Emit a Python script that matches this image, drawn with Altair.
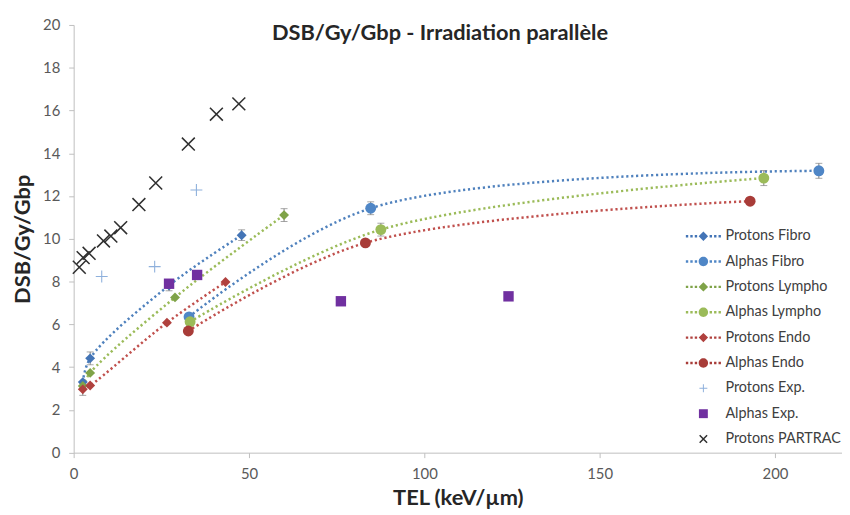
import altair as alt
import pandas as pd

# ---------------- data ----------------
TITLE = "DSB/Gy/Gbp - Irradiation parallèle"
X_TITLE = "TEL (keV/µm)"
Y_TITLE = "DSB/Gy/Gbp"
x_ticks = [0, 50, 100, 150, 200]
y_ticks = [0, 2, 4, 6, 8, 10, 12, 14, 16, 18, 20]

series_names = ["Protons Fibro", "Alphas Fibro", "Protons Lympho", "Alphas Lympho",
                "Protons Endo", "Alphas Endo", "Protons Exp.", "Alphas Exp.",
                "Protons PARTRAC"]

protons_fibro_x = [2.6, 4.7, 27.2, 47.9]
protons_fibro_y = [3.30, 4.41, 7.82, 10.17]
protons_fibro_err = [0.0, 0.30, 0.25, 0.25]

alphas_fibro_x = [32.9, 84.7, 212.5]
alphas_fibro_y = [6.35, 11.43, 13.18]
alphas_fibro_err = [0.0, 0.30, 0.35]

protons_lympho_x = [2.6, 4.7, 28.9, 60.0]
protons_lympho_y = [3.12, 3.73, 7.26, 11.11]
protons_lympho_err = [0.0, 0.0, 0.0, 0.30]

alphas_lympho_x = [33.2, 87.6, 196.8]
alphas_lympho_y = [6.12, 10.43, 12.84]
alphas_lympho_err = [0.0, 0.30, 0.35]

protons_endo_x = [2.6, 4.7, 26.6, 43.3]
protons_endo_y = [2.96, 3.14, 6.08, 7.98]
protons_endo_err = [0.28, 0.0, 0.0, 0.0]

alphas_endo_x = [32.7, 83.2, 192.9]
alphas_endo_y = [5.69, 9.81, 11.76]
alphas_endo_err = [0.0, 0.0, 0.0]

protons_exp_x = [8.0, 23.1, 35.0]
protons_exp_y = [8.24, 8.70, 12.28]

alphas_exp_x = [27.2, 35.2, 76.2, 124.0]
alphas_exp_y = [7.90, 8.31, 7.08, 7.31]

partrac_x = [1.6, 2.7, 4.4, 8.5, 10.6, 13.4, 18.6, 23.4, 32.7, 40.7, 47.1]
partrac_y = [8.67, 9.12, 9.32, 9.90, 10.13, 10.52, 11.60, 12.61, 14.43, 15.83, 16.31]

# ---------------- styles ----------------
def poly(pts):
    return "M" + " L".join(f"{x:.3f},{y:.3f}" for x, y in pts) + " Z"

def plus_path(h, t):
    return (poly([(-h, -t), (h, -t), (h, t), (-h, t)]) + " " +
            poly([(t, -h), (t, h), (-t, h), (-t, -h)]))

def cross_path(h, t):
    d = t / 2 ** 0.5
    a = poly([(-h + d, -h - d), (h + d, h - d), (h - d, h + d), (-h - d, -h + d)])
    b = poly([(-h + d, h + d), (-h - d, h - d), (h - d, -h - d), (h + d, -h + d)])
    return a + " " + b

def circle_path(r):
    return f"M{-r},0 A{r},{r} 0 1,0 {r},0 A{r},{r} 0 1,0 {-r},0 Z"

def diamond_path(r):
    return poly([(0, -r), (r, 0), (0, r), (-r, 0)])

def square_path(r):
    return poly([(-r, -r), (r, -r), (r, r), (-r, r)])

def dots_path():
    out = []
    for c in [-3.3, -2.4, -1.5, 1.5, 2.4, 3.3]:
        out.append(poly([(c - 0.24, -0.24), (c + 0.24, -0.24), (c + 0.24, 0.24), (c - 0.24, 0.24)]))
    return " ".join(out)

marker_color = {
    "Protons Fibro": "#4374B6", "Alphas Fibro": "#4F86C6",
    "Protons Lympho": "#7FA348", "Alphas Lympho": "#9BBB59",
    "Protons Endo": "#B0413E", "Alphas Endo": "#A83C38",
    "Protons Exp.": "#8EB0DC", "Alphas Exp.": "#7030A0",
    "Protons PARTRAC": "#303030",
}
line_color = {
    "Protons Fibro": "#4F81BD", "Alphas Fibro": "#4F81BD",
    "Protons Lympho": "#9BBB59", "Alphas Lympho": "#9BBB59",
    "Protons Endo": "#C0504D", "Alphas Endo": "#C0504D",
}
marker_shape = {
    "Protons Fibro": "diamond", "Alphas Fibro": "circle",
    "Protons Lympho": "diamond", "Alphas Lympho": "circle",
    "Protons Endo": "diamond", "Alphas Endo": "circle",
    "Protons Exp.": plus_path(1.1, 0.1), "Alphas Exp.": "square",
    "Protons PARTRAC": cross_path(1.0, 0.12),
}
marker_size = {
    "Protons Fibro": 100, "Alphas Fibro": 121,
    "Protons Lympho": 100, "Alphas Lympho": 121,
    "Protons Endo": 100, "Alphas Endo": 121,
    "Protons Exp.": 119, "Alphas Exp.": 110,
    "Protons PARTRAC": 169,
}
legend_paths = [
    dots_path() + " " + diamond_path(0.95),
    dots_path() + " " + circle_path(0.95),
    dots_path() + " " + diamond_path(0.95),
    dots_path() + " " + circle_path(0.95),
    dots_path() + " " + diamond_path(0.95),
    dots_path() + " " + circle_path(0.95),
    plus_path(0.8, 0.1),
    square_path(0.9),
    cross_path(0.75, 0.15),
]

# ---------------- tables ----------------
all_series = [
    ("Protons Fibro", protons_fibro_x, protons_fibro_y, protons_fibro_err),
    ("Alphas Fibro", alphas_fibro_x, alphas_fibro_y, alphas_fibro_err),
    ("Protons Lympho", protons_lympho_x, protons_lympho_y, protons_lympho_err),
    ("Alphas Lympho", alphas_lympho_x, alphas_lympho_y, alphas_lympho_err),
    ("Protons Endo", protons_endo_x, protons_endo_y, protons_endo_err),
    ("Alphas Endo", alphas_endo_x, alphas_endo_y, alphas_endo_err),
    ("Protons Exp.", protons_exp_x, protons_exp_y, [0.0] * len(protons_exp_x)),
    ("Alphas Exp.", alphas_exp_x, alphas_exp_y, [0.0] * len(alphas_exp_x)),
    ("Protons PARTRAC", partrac_x, partrac_y, [0.0] * len(partrac_x)),
]
rows = []
for order, (name, xs, ys, es) in enumerate(all_series):
    for x, y, e in zip(xs, ys, es):
        rows.append({"series": name, "x": x, "y": y, "err": e, "lo": y - e, "hi": y + e,
                     "ord": order,
                     "mcolor": marker_color[name], "lcolor": line_color.get(name, ""),
                     "shape": marker_shape[name], "size": marker_size[name]})
df = pd.DataFrame(rows)

X_MAX = 219.1
xscale = alt.Scale(domain=[0, X_MAX], nice=False, zero=False)
yscale = alt.Scale(domain=[0, 20], nice=False)
FONT = "Lato"
TITLE_SIZE = 22

x_enc = alt.X("x:Q", scale=xscale, title=X_TITLE,
              axis=alt.Axis(values=x_ticks, grid=False, labelFlush=False,
                            domainColor="#BFBFBF", tickColor="#BFBFBF", tickSize=5,
                            labelFontSize=15, labelColor="#595959", labelPadding=9,
                            titleFontSize=TITLE_SIZE, titleFontWeight="bold",
                            titleColor="#262626", titlePadding=6))
y_enc = alt.Y("y:Q", scale=yscale, title=Y_TITLE,
              axis=alt.Axis(values=y_ticks, grid=False, labelFlush=False,
                            domainColor="#BFBFBF", tickColor="#BFBFBF", tickSize=5,
                            labelFontSize=15, labelColor="#595959", labelPadding=9,
                            titleFontSize=TITLE_SIZE, titleFontWeight="bold",
                            titleColor="#262626", titlePadding=8))

base = alt.Chart(df)

lines = base.transform_filter("datum.lcolor != ''").mark_line(
    interpolate="catmull-rom", strokeWidth=2.5, strokeDash=[2.2, 2.8]
).encode(
    x=x_enc, y=y_enc, detail="series:N",
    stroke=alt.Stroke("lcolor:N", scale=None),
)

errs = base.transform_filter("datum.err > 0")
err_rule = errs.mark_rule(color="#808080", strokeWidth=1).encode(
    x=alt.X("x:Q", scale=xscale), y=alt.Y("lo:Q", scale=yscale), y2="hi:Q")
cap_lo = errs.mark_tick(color="#808080", orient="horizontal", size=7, thickness=1).encode(
    x=alt.X("x:Q", scale=xscale), y=alt.Y("lo:Q", scale=yscale))
cap_hi = errs.mark_tick(color="#808080", orient="horizontal", size=7, thickness=1).encode(
    x=alt.X("x:Q", scale=xscale), y=alt.Y("hi:Q", scale=yscale))

points = base.mark_point(filled=True, opacity=1, strokeWidth=0).encode(
    x=alt.X("x:Q", scale=xscale), y=alt.Y("y:Q", scale=yscale),
    fill=alt.Fill("mcolor:N", scale=None),
    shape=alt.Shape("shape:N", scale=None),
    size=alt.Size("size:Q", scale=None),
    order=alt.Order("ord:Q"),
)

legend_props = dict(orient="none", legendX=628.5, legendY=206, title=None,
                    labelFont=FONT, labelFontSize=14.5, labelColor="#404040",
                    symbolSize=100, symbolStrokeWidth=0, labelOffset=15,
                    rowPadding=10.6, padding=0, symbolOffset=0, direction="vertical")
legend_df = pd.DataFrame({"series": series_names})
legend_layer = alt.Chart(legend_df).transform_filter("false").mark_point(
    filled=True, opacity=1).encode(
    color=alt.Color("series:N", scale=alt.Scale(domain=series_names,
                    range=[marker_color[s] for s in series_names]),
                    legend=alt.Legend(**legend_props)),
    shape=alt.Shape("series:N", scale=alt.Scale(domain=series_names, range=legend_paths),
                    legend=alt.Legend(**legend_props)),
)

chart = alt.layer(lines, err_rule, cap_lo, cap_hi, points, legend_layer).properties(
    width=775.7, height=431.8,
    autosize=alt.AutoSizeParams(type="none"),
    padding={"left": 66.3, "top": 14.7, "right": 0, "bottom": 60.5},
    title=alt.TitleParams(TITLE, font=FONT, fontSize=TITLE_SIZE, fontWeight="bold",
                          color="#262626", anchor="middle", offset=-27.5, dx=-18),
).configure(font=FONT).configure_view(strokeWidth=0).configure_axis(
    labelFont=FONT, titleFont=FONT)

chart.save("out.html", embed_options={"renderer": "svg", "actions": False})
